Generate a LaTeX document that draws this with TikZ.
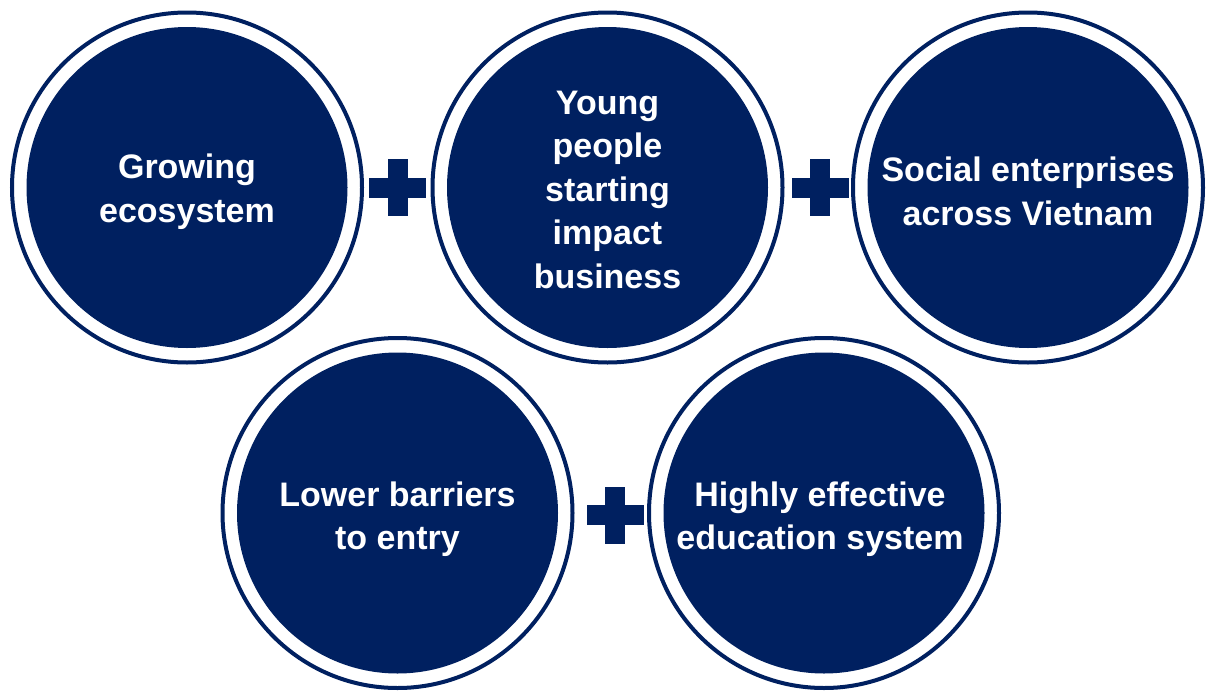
\documentclass[tikz,border=0pt]{standalone}
\usepackage{fontspec}
\setmainfont{Liberation Sans}
\definecolor{navy}{HTML}{002060}
\begin{document}
\begin{tikzpicture}[x=1pt,y=-1pt,
  disk/.style={circle,fill=navy,minimum size=321pt,inner sep=0pt},
  ring/.style={draw=navy,line width=4pt},
  lbl/.style={text=white,font=\bfseries\fontsize{34}{43.5}\selectfont,align=center},
  plusbar/.style={fill=navy}]
\useasboundingbox (0,0) rectangle (1208,691);
% circles
\foreach \n/\x/\y in {c1/187/187.5, c2/607.5/187.5, c3/1028/187.5, c4/397.5/513, c5/824/513}{
  \node[disk] (\n) at (\x,\y) {};
  \draw[ring] (\n.center) circle (175);
}
\node[lbl] (t1) at ([yshift=-4pt]c1) {Growing\\ecosystem};
\node[lbl] (t2) at ([yshift=-2pt]c2) {Young\\people\\starting\\impact\\business};
\node[lbl] (t3) at ([yshift=-4pt]c3) {Social enterprises\\across Vietnam};
\node[lbl] (t4) at ([yshift=-6pt]c4) {Lower barriers\\to entry};
\node[lbl] (t5) at ([shift={(-4pt,-6pt)}]c5) {Highly effective\\education system};
% plus signs
\foreach \n/\x/\y in {p1/397.5/187.5, p2/820/187.5, p3/615/515}{
  \coordinate (\n) at (\x,\y);
  \fill[plusbar] ([shift={(-28.5,-10)}]\n) rectangle ([shift={(28.5,10)}]\n);
  \fill[plusbar] ([shift={(-10,-28.5)}]\n) rectangle ([shift={(10,28.5)}]\n);
}
\end{tikzpicture}
\end{document}
